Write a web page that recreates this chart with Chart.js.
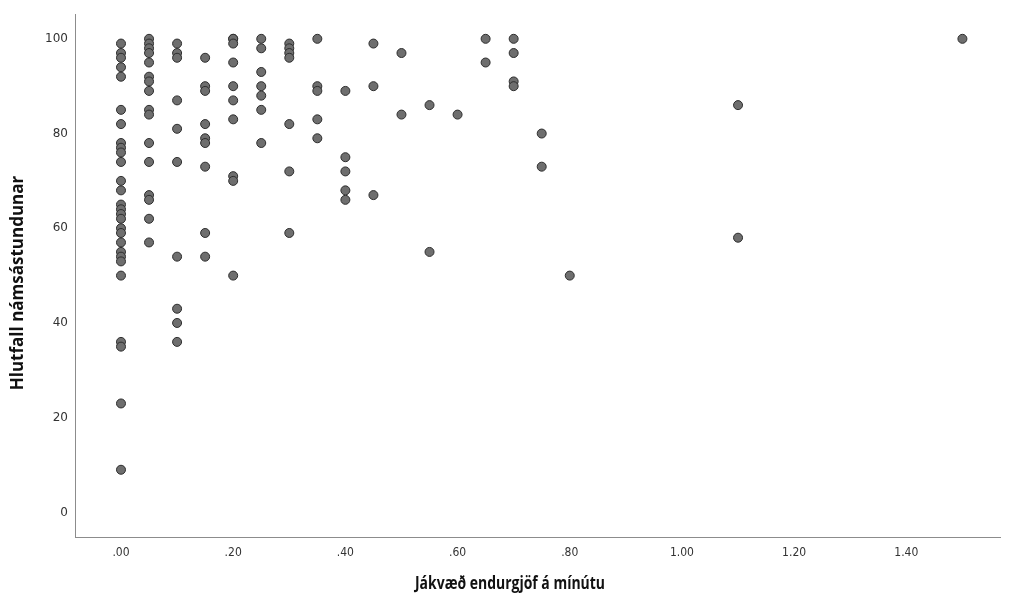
<!DOCTYPE html>
<html>
<head>
<meta charset="utf-8">
<script src="https://cdn.jsdelivr.net/npm/chart.js@4/dist/chart.umd.min.js"></script>
<style>
html,body{margin:0;padding:0;background:#fff;}
#c{display:block;}
</style>
</head>
<body>
<canvas id="c" width="1011" height="599"></canvas>
<script>
// Positive feedback per minute (x) levels and the observed percentages (y) at each level
const xLevels = [0.00, 0.05, 0.10, 0.15, 0.20, 0.25, 0.30, 0.35, 0.40, 0.45, 0.50, 0.55, 0.60, 0.65, 0.70, 0.75, 0.80, 1.10, 1.50];
const yAt000 = [99, 97, 96, 94, 92, 85, 82, 78, 77, 76, 74, 70, 68, 65, 64, 63, 62, 60, 59, 57, 55, 54, 53, 50, 36, 35, 23, 9];
const yAt005 = [100, 99, 98, 97, 95, 92, 91, 89, 85, 84, 78, 74, 67, 66, 62, 57];
const yAt010 = [99, 97, 96, 87, 81, 74, 54, 43, 40, 36];
const yAt015 = [96, 90, 89, 82, 79, 78, 73, 59, 54];
const yAt020 = [100, 100, 99, 95, 90, 87, 83, 71, 70, 50];
const yAt025 = [100, 98, 93, 90, 88, 85, 78];
const yAt030 = [99, 98, 97, 96, 82, 72, 59];
const yAt035 = [100, 90, 89, 83, 79];
const yAt040 = [89, 75, 72, 68, 66];
const yAt045 = [99, 90, 67];
const yAt050 = [97, 84];
const yAt055 = [86, 55];
const yAt060 = [84];
const yAt065 = [100, 95];
const yAt070 = [100, 97, 91, 90];
const yAt075 = [80, 73];
const yAt080 = [50];
const yAt110 = [86, 58];
const yAt150 = [100];
const yGroups = [yAt000, yAt005, yAt010, yAt015, yAt020, yAt025, yAt030, yAt035, yAt040, yAt045, yAt050, yAt055, yAt060, yAt065, yAt070, yAt075, yAt080, yAt110, yAt150];

const xTickValues = [0, 0.2, 0.4, 0.6, 0.8, 1.0, 1.2, 1.4];
const yTickValues = [0, 20, 40, 60, 80, 100];
const xTitle = 'Jákvæð endurgjöf á mínútu';
const yTitle = 'Hlutfall námsástundunar';

const points = [];
xLevels.forEach((x, i) => yGroups[i].forEach(y => points.push({x: x, y: y})));

const fmtX = v => { const s = Number(v).toFixed(2); return s.startsWith('0') ? s.slice(1) : s; };

// Axis titles drawn as canvas text (condensed x title like the original)
const axisTitles = {
  id: 'axisTitles',
  afterDraw(chart) {
    const ctx = chart.ctx;
    ctx.save();
    ctx.fillStyle = '#111';
    ctx.textAlign = 'center';
    ctx.textBaseline = 'middle';
    // x title
    ctx.font = "bold 18px 'Open Sans', sans-serif";
    const w = ctx.measureText(xTitle).width;
    ctx.translate(510, 584);
    ctx.scale(190 / w, 1);
    ctx.fillText(xTitle, 0, 0);
    ctx.restore();
    // y title
    ctx.save();
    ctx.fillStyle = '#111';
    ctx.textAlign = 'center';
    ctx.textBaseline = 'middle';
    ctx.font = "bold 17px 'Open Sans', sans-serif";
    ctx.translate(18, 283);
    ctx.rotate(-Math.PI / 2);
    ctx.fillText(yTitle, 0, 0);
    ctx.restore();
  }
};

new Chart(document.getElementById('c'), {
  type: 'scatter',
  data: {
    datasets: [{
      data: points,
      backgroundColor: 'rgb(110,110,110)',
      borderColor: 'rgb(45,45,45)',
      borderWidth: 1,
      pointRadius: 4.5,
      pointHoverRadius: 4.5
    }]
  },
  plugins: [axisTitles],
  options: {
    responsive: false,
    animation: false,
    events: [],
    layout: { padding: { top: 8, right: 11, left: 0, bottom: 0 } },
    plugins: { legend: { display: false }, tooltip: { enabled: false } },
    scales: {
      x: {
        type: 'linear',
        min: -0.082,
        max: 1.567,
        grid: { display: false, drawTicks: false },
        border: { display: true, color: '#8c8c8c', width: 1 },
        afterFit: s => { s.height = 62; },
        afterBuildTicks: s => { s.ticks = xTickValues.map(v => ({ value: v })); },
        ticks: {
          padding: 9,
          color: '#333',
          font: { family: "'Liberation Sans Narrow', 'DejaVu Sans Condensed', sans-serif", size: 12 },
          callback: v => fmtX(v),
          maxRotation: 0,
          autoSkip: false
        },
        title: { display: false, text: xTitle }
      },
      y: {
        type: 'linear',
        min: -5.2,
        max: 105.2,
        grid: { display: false, drawTicks: false },
        border: { display: true, color: '#8c8c8c', width: 1 },
        afterFit: s => { s.width = 75; },
        afterBuildTicks: s => { s.ticks = yTickValues.map(v => ({ value: v })); },
        ticks: {
          padding: 7,
          color: '#333',
          font: { family: "'DejaVu Sans', sans-serif", size: 12 },
          autoSkip: false
        },
        title: { display: false, text: yTitle }
      }
    }
  }
});
</script>
</body>
</html>
